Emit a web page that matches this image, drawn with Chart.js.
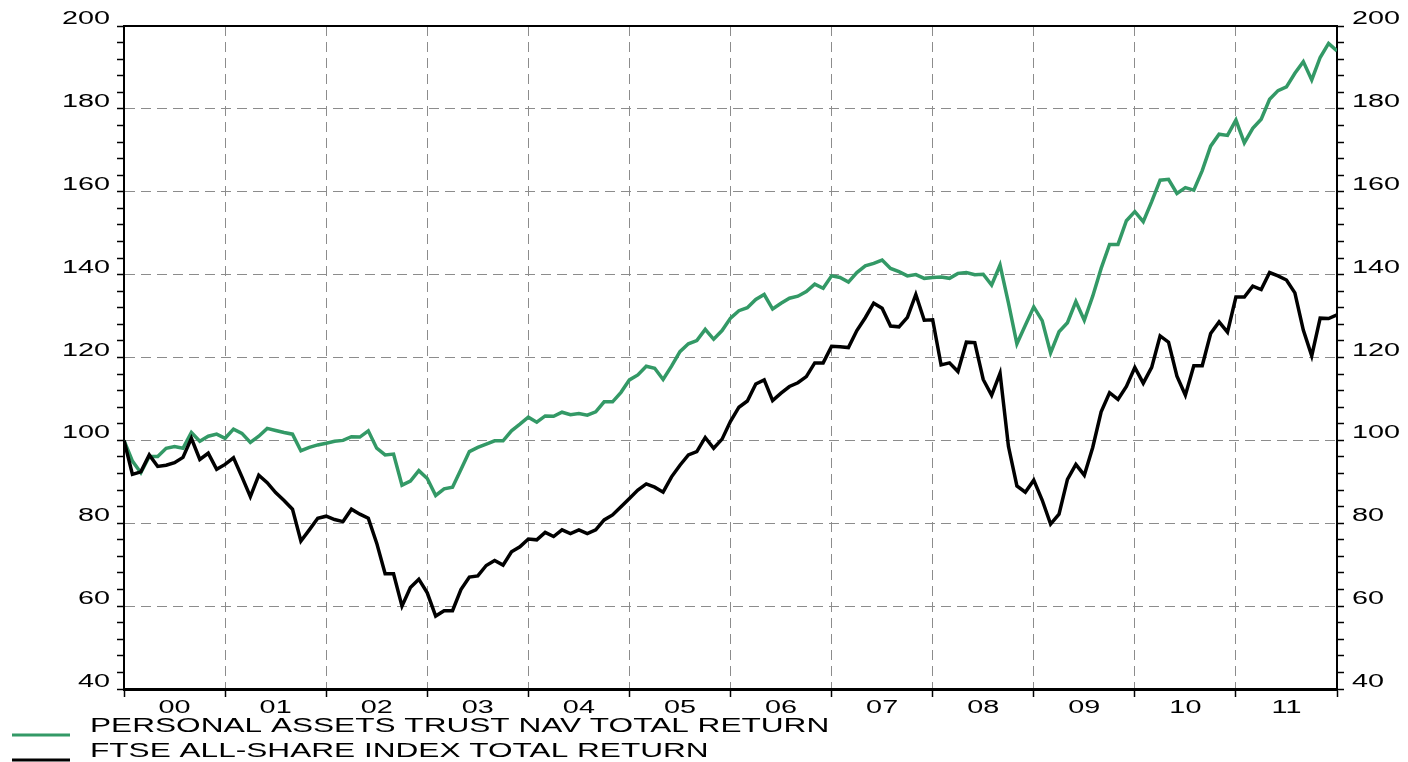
<!DOCTYPE html>
<html>
<head>
<meta charset="utf-8">
<style>
    html, body { margin: 0; padding: 0; background: #fff; }
    #chart { display: block; }
</style>
<script src="https://cdn.jsdelivr.net/npm/chart.js@4/dist/chart.umd.min.js"></script>
</head>
<body>
<canvas id="chart" width="1408" height="762"></canvas>
<script>
var yearLabels = ['00', '01', '02', '03', '04', '05', '06', '07', '08', '09', '10', '11'];
var yTickLabels = [40, 60, 80, 100, 120, 140, 160, 180, 200];

var seriesNames = ['PERSONAL ASSETS TRUST NAV TOTAL RETURN', 'FTSE ALL-SHARE INDEX TOTAL RETURN'];

// month-end values, Dec 1999 = 100
var navReturn = [
    100, 95, 92.2, 96.1, 96.1, 98.1, 98.5, 98.1, 101.9, 99.8, 101, 101.5,
    100.5, 102.7, 101.7, 99.5, 101, 102.9, 102.4, 101.9, 101.5, 97.5, 98.3, 98.9,
    99.3, 99.8, 100, 100.9, 100.8, 102.3, 98.1, 96.5, 96.7, 89.2, 90.2, 92.7,
    90.8, 86.7, 88.3, 88.7, 93, 97.3, 98.3, 99.1, 99.9, 99.9, 102.3, 103.9,
    105.6, 104.4, 105.9, 105.8, 106.8, 106.2, 106.5, 106.1, 106.9, 109.3, 109.3, 111.6,
    114.6, 115.8, 117.9, 117.4, 114.7, 117.9, 121.4, 123.3, 124.1, 126.8, 124.4, 126.5,
    129.5, 131.3, 132, 134, 135.2, 131.7, 133.1, 134.3, 134.8, 135.9, 137.7, 136.7,
    139.7, 139.3, 138.2, 140.5, 142.1, 142.7, 143.5, 141.5, 140.7, 139.7, 140, 139.1,
    139.3, 139.4, 139.1, 140.3, 140.5, 140, 140.1, 137.5, 142.3, 133.1, 123.3, 127.8,
    132.2, 128.9, 121.1, 126.2, 128.4, 133.5, 129, 134.8, 141.5, 147.3, 147.3, 153,
    155.2, 152.8, 157.6, 162.8, 163, 159.6, 161, 160.4, 165.1, 171, 173.9, 173.6,
    177.3, 171.8, 175.3, 177.5, 182.3, 184.4, 185.3, 188.6, 191.4, 187, 192.4, 195.8,
    194
];

var ftseReturn = [
    100, 91.8, 92.4, 96.5, 93.7, 94, 94.6, 95.9, 100.5, 95.4, 96.9, 93,
    94.2, 95.8, 91.2, 86.4, 91.6, 89.8, 87.4, 85.5, 83.4, 75.7, 78.4, 81.2,
    81.7, 80.9, 80.4, 83.4, 82.2, 81.2, 75.2, 67.8, 67.8, 60, 64.5, 66.5,
    63.2, 57.6, 58.9, 58.9, 64, 67, 67.3, 69.8, 71, 69.9, 73.1, 74.3,
    76.2, 76, 77.8, 76.8, 78.4, 77.5, 78.4, 77.5, 78.4, 80.8, 82, 84,
    86, 88, 89.5, 88.7, 87.5, 91.2, 94, 96.5, 97.3, 100.7, 98.1, 100.3,
    104.6, 108, 109.5, 113.6, 114.6, 109.6, 111.4, 113, 113.9, 115.4, 118.7, 118.7,
    122.7, 122.6, 122.4, 126.5, 129.6, 133.1, 131.9, 127.6, 127.4, 129.7, 135.2, 129,
    129.1, 118.2, 118.7, 116.6, 123.7, 123.6, 114.7, 110.9, 116.2, 98.5, 89, 87.5,
    90.4, 85.6, 79.8, 82.2, 90.6, 94.2, 91.6, 98.3, 106.9, 111.5, 109.9, 113,
    117.6, 113.8, 117.6, 125.2, 123.7, 115.5, 110.9, 118, 118, 125.8, 128.6, 126.1,
    134.6, 134.6, 137.2, 136.4, 140.5, 139.7, 138.7, 135.6, 126.6, 120.4, 129.5, 129.4,
    130.3
];

var GREEN = '#339966';
var GRID = '#8c8c8c';
var FONT = '"Liberation Sans", Arial, sans-serif';

function toPoints(values) {
    return values.map(function (v, i) {
        return { x: i, y: v };
    });
}

function drawStretched(ctx, text, x, y, align, stretch) {
    ctx.save();
    ctx.translate(x, y);
    ctx.scale(stretch, 1);
    ctx.textAlign = align;
    ctx.textBaseline = 'alphabetic';
    ctx.fillText(text, 0, 0);
    ctx.restore();
}

var textPlugin = {
    id: 'chartTexts',
    afterDraw: function (chart) {
        var ctx = chart.ctx;
        var x = chart.scales.x;
        var y = chart.scales.y;
        ctx.save();
        ctx.fillStyle = '#000';
        ctx.font = '18px ' + FONT;

        yTickLabels.forEach(function (v) {
            var py = y.getPixelForValue(v) - 2;
            drawStretched(ctx, String(v), 110, py, 'right', 1.6);
            drawStretched(ctx, String(v), 1352, py, 'left', 1.6);
        });

        yearLabels.forEach(function (label, k) {
            drawStretched(ctx, label, x.getPixelForValue(k * 12 + 6), 713, 'center', 1.6);
        });

        // legend
        var rows = [
            { color: GREEN, text: seriesNames[0], lineY: 735, textY: 732 },
            { color: '#000', text: seriesNames[1], lineY: 760, textY: 757 }
        ];
        ctx.font = '20px ' + FONT;
        rows.forEach(function (row) {
            ctx.strokeStyle = row.color;
            ctx.lineWidth = 3;
            ctx.beginPath();
            ctx.moveTo(12, row.lineY);
            ctx.lineTo(70, row.lineY);
            ctx.stroke();
            drawStretched(ctx, row.text, 90, row.textY, 'left', 1.58);
        });
        ctx.restore();
    }
};

function yGridColor(c) {
    var v = c.tick ? c.tick.value : null;
    if (v !== null && v % 20 === 0 && v > 40 && v < 200) {
        return GRID;
    }
    return 'rgba(0,0,0,0)';
}

function xGridColor(c) {
    var v = c.tick ? c.tick.value : null;
    if (v !== null && v > 0 && v < 144) {
        return GRID;
    }
    return 'rgba(0,0,0,0)';
}

new Chart(document.getElementById('chart'), {
    type: 'line',
    data: {
        datasets: [
            {
                label: seriesNames[0],
                data: toPoints(navReturn),
                borderColor: GREEN,
                borderWidth: 3.5,
                pointRadius: 0,
                tension: 0,
                order: 1
            },
            {
                label: seriesNames[1],
                data: toPoints(ftseReturn),
                borderColor: '#000',
                borderWidth: 3.5,
                pointRadius: 0,
                tension: 0,
                order: 0
            }
        ]
    },
    options: {
        responsive: false,
        animation: false,
        layout: { padding: 0 },
        plugins: {
            legend: { display: false },
            tooltip: { enabled: false }
        },
        scales: {
            x: {
                type: 'linear',
                position: 'bottom',
                min: 0,
                max: navReturn.length - 1,
                afterBuildTicks: function (scale) {
                    var ticks = yearLabels.map(function (_, k) { return { value: k * 12 }; });
                    ticks.push({ value: yearLabels.length * 12 });
                    scale.ticks = ticks;
                },
                afterFit: function (scale) { scale.height = 73; },
                ticks: { display: false },
                grid: {
                    color: xGridColor,
                    lineWidth: 1,
                    tickColor: '#000',
                    tickLength: 8,
                    tickWidth: 1.5
                },
                border: { color: '#000', width: 3, dash: [10, 6] }
            },
            xTop: {
                type: 'linear',
                position: 'top',
                min: 0,
                max: 144,
                afterFit: function (scale) { scale.height = 26; },
                ticks: { display: false },
                grid: { display: false },
                border: { color: '#000', width: 2 }
            },
            y: {
                type: 'linear',
                position: 'left',
                min: 40,
                max: 200,
                afterFit: function (scale) { scale.width = 124; },
                ticks: { display: false, stepSize: 4 },
                grid: {
                    color: yGridColor,
                    lineWidth: 1,
                    tickColor: '#000',
                    tickLength: 7,
                    tickWidth: 1.5
                },
                border: { color: '#000', width: 2, dash: [10, 6] }
            },
            y2: {
                type: 'linear',
                position: 'right',
                min: 40,
                max: 200,
                afterFit: function (scale) { scale.width = 71; },
                ticks: { display: false, stepSize: 4 },
                grid: {
                    drawOnChartArea: false,
                    tickColor: '#000',
                    tickLength: 7,
                    tickWidth: 1.5
                },
                border: { color: '#000', width: 2 }
            }
        }
    },
    plugins: [textPlugin]
});
</script>
</body>
</html>
